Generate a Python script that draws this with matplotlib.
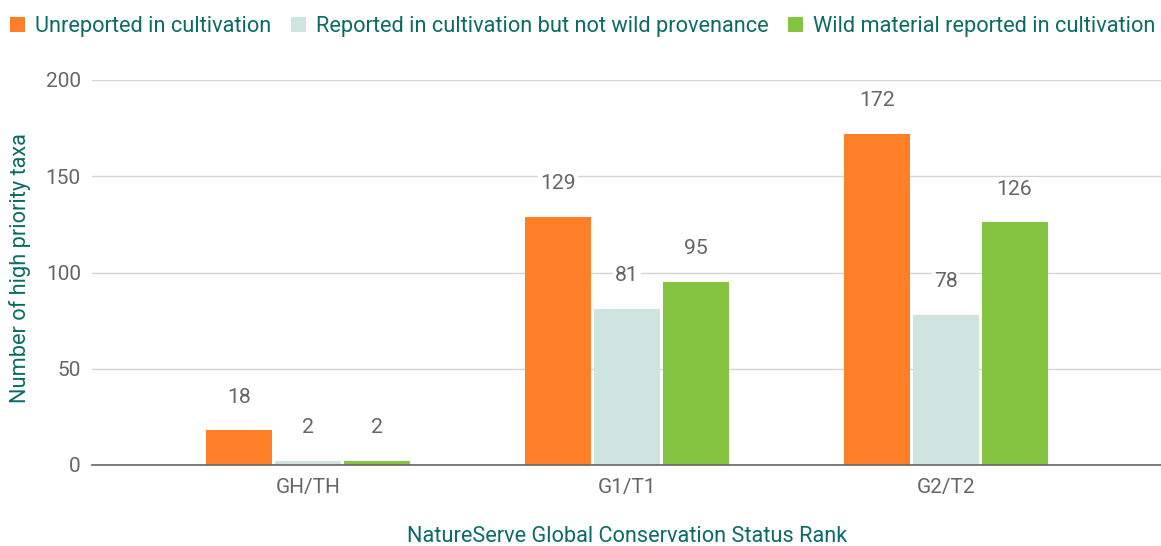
import numpy as np
import matplotlib.pyplot as plt
from matplotlib.patches import Patch

plt.rcParams['font.family'] = ['Roboto', 'DejaVu Sans']

# conservation rank groups and counts per cultivation status
ranks = ["GH/TH", "G1/T1", "G2/T2"]
series_names = [
    "Unreported in cultivation",
    "Reported in cultivation but not wild provenance",
    "Wild material reported in cultivation",
]
unreported = [18, 129, 172]
not_wild = [2, 81, 78]
wild = [2, 95, 126]
series = [unreported, not_wild, wild]
colors = ["#fe7f27", "#cfe4df", "#84c441"]

teal = "#0b6b66"
grey = "#666666"

fig = plt.figure(figsize=(11.61, 5.46), dpi=100)
ax = fig.add_axes([92 / 1161, 1 - 465 / 546, 1 - 92 / 1161, (465 - 80) / 546])

x = np.arange(len(ranks))
width = 0.207
step = 0.215
for i, (vals, col) in enumerate(zip(series, colors)):
    pos = x + (i - 1) * step
    ax.bar(pos, vals, width=width, color=col, zorder=3)
    for px, v in zip(pos, vals):
        ax.annotate(str(v), (px, v), xytext=(0, 24), textcoords="offset points",
                    ha="center", va="center", fontsize=15.3, color=grey, zorder=4,
                    bbox=dict(boxstyle="square,pad=0.1", fc="white", ec="none"))

ax.set_ylim(0, 200)
ax.set_xlim(-(308 - 92) / 319, 2 + (1161 - 946) / 319)
ax.set_yticks([0, 50, 100, 150, 200])
ax.set_xticks(x)
ax.set_xticklabels(ranks)
ax.tick_params(length=0, labelsize=15, labelcolor=grey)
ax.tick_params(axis="x", pad=9)
ax.tick_params(axis="y", pad=8)
ax.grid(axis="y", color="#d4d4d4", linewidth=1, zorder=0)
for s in ["top", "right", "left"]:
    ax.spines[s].set_visible(False)
ax.spines["bottom"].set_color(grey)
ax.spines["bottom"].set_linewidth(1.2)
ax.spines["bottom"].set_zorder(5)

fig.text(20 / 1161, 1 - 268 / 546, "Number of high priority taxa", rotation=90,
         ha="center", va="center", fontsize=15.7, color=teal)
fig.text(627 / 1161, 1 - 537 / 546, "NatureServe Global Conservation Status Rank",
         ha="center", va="center", fontsize=15.7, color=teal)

handles = [Patch(facecolor=c, edgecolor="none") for c in colors]
fig.legend(handles, series_names, loc="upper left", bbox_to_anchor=(10 / 1161, 1 - 16 / 546),
           ncol=3, frameon=False, fontsize=15.7, labelcolor=teal,
           handlelength=0.69, handleheight=0.69, handletextpad=0.45,
           columnspacing=0.9, borderpad=0, borderaxespad=0)

fig.savefig("out.png", dpi=100)
